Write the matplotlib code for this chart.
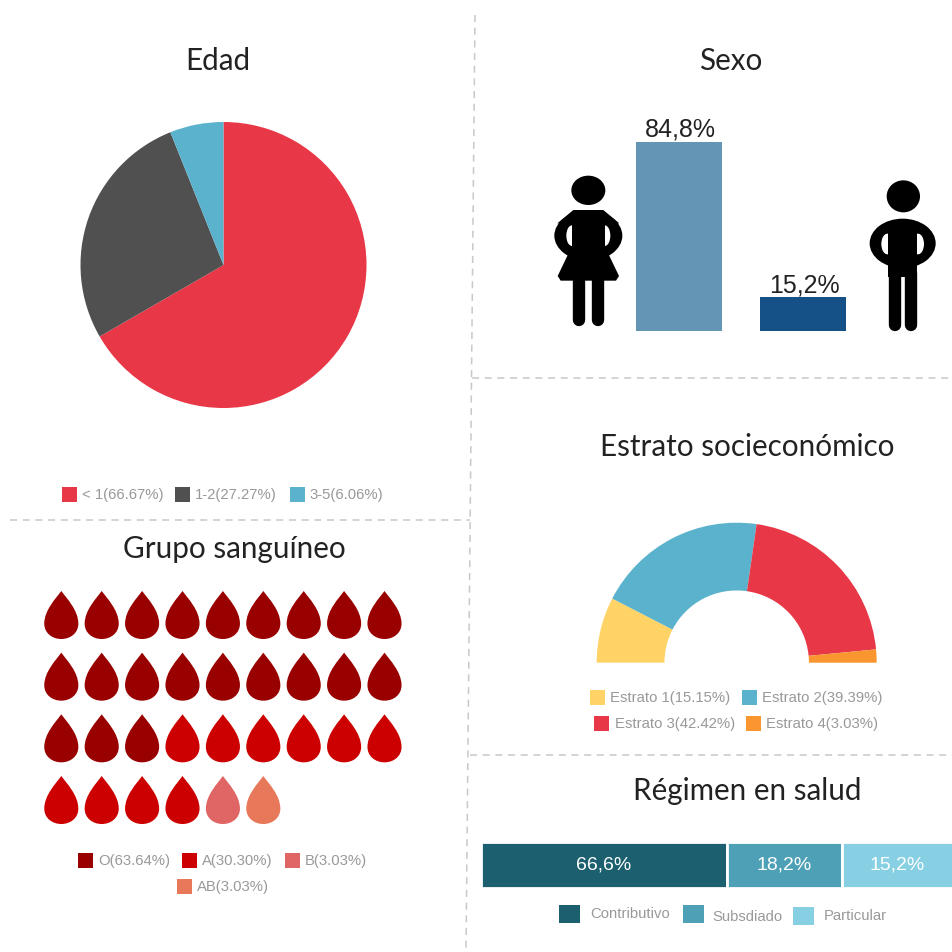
import matplotlib
matplotlib.use("Agg")
import matplotlib.pyplot as plt
from matplotlib.patches import Ellipse, Polygon, Rectangle
from matplotlib.path import Path

SIZE = 952

# Edad
edad_labels = ["< 1(66.67%)", "1-2(27.27%)", "3-5(6.06%)"]
edad_values = [66.67, 27.27, 6.06]
edad_colors = ["#E83747", "#505050", "#5AB2CC"]

# Sexo
sexo_values = [84.8, 15.2]
sexo_labels = ["84,8%", "15,2%"]
sexo_colors = ["#6595B4", "#155186"]

# Grupo sanguineo
sangre_labels = ["O(63.64%)", "A(30.30%)", "B(3.03%)", "AB(3.03%)"]
sangre_counts = [21, 10, 1, 1]
sangre_colors = ["#990000", "#CC0000", "#E06666", "#E8785A"]

# Estrato
estrato_labels = ["Estrato 1(15.15%)", "Estrato 2(39.39%)", "Estrato 3(42.42%)", "Estrato 4(3.03%)"]
estrato_values = [15.15, 39.39, 42.42, 3.03]
estrato_colors = ["#FFD366", "#5AB2CC", "#E83747", "#F9962F"]

# Regimen: the segments in the picture are not proportional to their labels,
# so the drawn widths are read off separately
regimen_labels = ["Contributivo", "Subsdiado", "Particular"]
regimen_text = ["66,6%", "18,2%", "15,2%"]
regimen_widths = [246, 115, 111]
regimen_colors = ["#1C6070", "#4EA0B6", "#87CFE3"]

plt.rcParams["font.family"] = ["Liberation Sans", "DejaVu Sans"]
TITLE = dict(family="Lato", fontsize=21.3, color="#222222", ha="center", va="center")
LEG = dict(fontsize=10.7, color="#999999", va="center", ha="left")
GRID = "#C8C8C8"


def axes_px(fig, left, top, right, bottom):
    return fig.add_axes([left / SIZE, 1 - bottom / SIZE, (right - left) / SIZE, (bottom - top) / SIZE])


def swatch(ax, x, y, w, h, color, text, tx):
    ax.add_patch(Rectangle((x, y), w, h, color=color, lw=0))
    ax.text(tx, y + h / 2 + 0.5, text, **LEG)


fig = plt.figure(figsize=(SIZE / 100, SIZE / 100), dpi=100)

# overlay in pixels, for separators, titles, icons and legends
over = fig.add_axes([0, 0, 1, 1], zorder=5)
over.set_xlim(0, SIZE)
over.set_ylim(SIZE, 0)
over.axis("off")
over.patch.set_alpha(0)

for xs, ys in [((475, 466), (15, 952)), ((472, 960), (378, 378)), ((10, 470), (520, 520)), ((470, 960), (755, 755))]:
    over.plot(xs, ys, color=GRID, lw=1.1, dashes=(4.6, 3.7))

for txt, x, y in [("Edad", 218, 61), ("Sexo", 731, 61), ("Grupo sanguíneo", 234, 549),
                  ("Estrato socieconómico", 747, 447), ("Régimen en salud", 747, 791)]:
    over.text(x, y, txt, **TITLE)

# pie
ax = axes_px(fig, 80.5, 122, 366.5, 408)
ax.pie(edad_values, colors=edad_colors, startangle=90, counterclock=False, radius=1)
ax.set_xlim(-1, 1)
ax.set_ylim(-1, 1)
for label, color, x, tx in zip(edad_labels, edad_colors, [62, 175, 290], [82, 195, 309]):
    swatch(over, x, 487, 15, 15, color, label, tx)

# bars
ax = axes_px(fig, 636, 142, 846, 331)
ax.bar([0, 1], sexo_values, width=0.7, color=sexo_colors)
ax.set_xlim(-0.35, 1.35)
ax.set_ylim(0, sexo_values[0])
ax.axis("off")
for i, (v, t) in enumerate(zip(sexo_values, sexo_labels)):
    ax.annotate(t, (i, v), xytext=(1, 0), textcoords="offset points", ha="center", va="bottom",
                fontsize=18, color="#222222", annotation_clip=False)


def z(x, y):
    # icon coordinates come from a 3x crop starting at (470, 90)
    return 470 + x / 3, 90 + y / 3


def blob(cx, cy, w, h, color="black"):
    over.add_patch(Ellipse(z(cx, cy), w / 3, h / 3, color=color, lw=0))


def poly(pts):
    over.add_patch(Polygon([z(*p) for p in pts], color="black", lw=0))


def leg(x, y0, y1):
    p0, p1 = z(x, y0), z(x, y1)
    over.plot([p0[0], p1[0]], [p0[1], p1[1]], color="black", lw=8.9, solid_capstyle="round")


# woman
blob(355, 301, 102, 88)
blob(355, 437, 204, 150)
blob(306, 437, 34, 62, "white")
blob(404, 437, 34, 62, "white")
poly([(310, 360), (400, 360), (448, 400), (262, 400)])
poly([(306, 400), (404, 400), (404, 495), (306, 495)])
poly([(298, 485), (412, 485), (447, 558), (438, 572), (272, 572), (263, 558)])
leg(326, 560, 690)
leg(383, 560, 690)

# man
blob(1300, 319, 100, 96)
blob(1298, 460, 198, 148)
blob(1252, 462, 36, 62, "white")
blob(1344, 462, 36, 62, "white")
poly([(1255, 400), (1342, 400), (1342, 560), (1255, 560)])
leg(1274, 550, 705)
leg(1323, 550, 705)

# blood drop waffle
drop = Path(
    [(0, 1), (0.22, 0.7), (0.71, 0.2), (0.71, -0.36), (0.71, -0.75), (0.38, -1), (0, -1),
     (-0.38, -1), (-0.71, -0.75), (-0.71, -0.36), (-0.71, 0.2), (-0.22, 0.7), (0, 1)],
    [Path.MOVETO] + [Path.CURVE4] * 12,
)
cols, rows, drop_colors = [], [], []
n = 0
for count, color in zip(sangre_counts, sangre_colors):
    for _ in range(count):
        cols.append(n % 9)
        rows.append(n // 9)
        drop_colors.append(color)
        n += 1
ax = axes_px(fig, 61.3, 615, 384.5, 800)
ax.scatter(cols, rows, marker=drop, s=1195, c=drop_colors, linewidths=0, clip_on=False)
ax.set_xlim(0, 8)
ax.set_ylim(3, 0)
ax.axis("off")
for label, color, x, y, tx in zip(sangre_labels, sangre_colors, [78, 182, 285, 177],
                                  [853, 853, 853, 879], [98, 202, 305, 197]):
    swatch(over, x, y, 15, 15, color, label, tx)

# half donut
ax = axes_px(fig, 596.7, 522.7, 876.7, 662.7)
ax.pie(estrato_values + [sum(estrato_values)], colors=estrato_colors + ["none"], startangle=180,
       counterclock=False, radius=1, wedgeprops=dict(width=0.484))
ax.set_xlim(-1, 1)
ax.set_ylim(0, 1)
for label, color, x, y, tx in zip(estrato_labels, estrato_colors, [590, 742, 594, 746],
                                  [690, 690, 716, 716], [610, 762, 615, 766]):
    swatch(over, x, y, 15, 15, color, label, tx)

# stacked strip
ax = axes_px(fig, 481, 842, SIZE, 888)
left = 0
for w, t, color in zip(regimen_widths, regimen_text, regimen_colors):
    ax.barh(0, w, left=left, height=1, color=color, edgecolor="white", linewidth=2)
    ax.text(left + w / 2, 0, t, color="white", fontsize=14, ha="center", va="center")
    left += w
ax.set_xlim(0, SIZE - 481)
ax.set_ylim(-0.5, 0.5)
ax.axis("off")
for label, color, x, y, tx in zip(regimen_labels, regimen_colors, [559, 683, 793], [905, 905, 907], [590, 712, 824]):
    over.add_patch(Rectangle((x, y), 21, 18, color=color, lw=0))
    over.text(tx, y + 9 + (3 if label == "Subsdiado" else 0), label, **LEG)

fig.savefig("out.png", dpi=100)
